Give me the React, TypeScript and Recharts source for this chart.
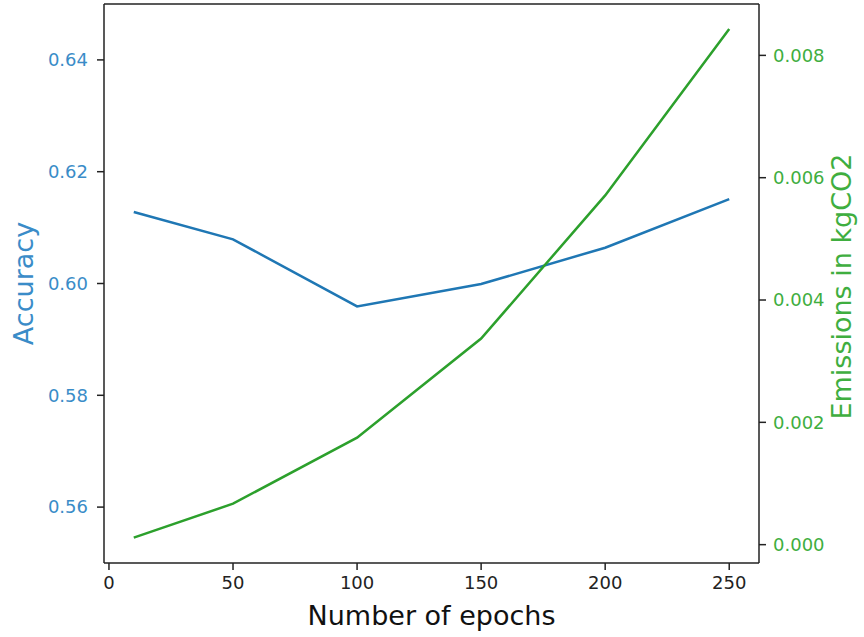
import React from 'react';
import { LineChart, Line, XAxis, YAxis, ReferenceLine } from 'recharts';

const epochs = [10, 50, 100, 150, 200, 250];
const accuracy = [0.6128, 0.6079, 0.5959, 0.5999, 0.6064, 0.6151];
const emissions = [0.000114, 0.00067, 0.00175, 0.00337, 0.00571, 0.00843];

const xTicks = [0, 50, 100, 150, 200, 250];
const accTicks = [0.56, 0.58, 0.6, 0.62, 0.64];
const emTicks = [0, 0.002, 0.004, 0.006, 0.008];

const data = epochs.map((e, i) => ({ epoch: e, accuracy: accuracy[i], emissions: emissions[i] }));

const BLUE = '#1f77b4';
const GREEN = '#2ca02c';
const BLUE_TEXT = '#3a8cc8';
const GREEN_TEXT = '#3fae3f';
const SPINE = '#222';
const FONT = 'DejaVu Sans, sans-serif';

// rotated y-axis title, centred on the axis box
const sideLabel = (text: string, color: string, offsetX: number, shiftY: number) => (props: any) => {
  const vb = props.viewBox || {};
  const x = vb.x + offsetX;
  const y = vb.y + vb.height / 2 + shiftY;
  return (
    <text x={x} y={y} dy="0.355em" transform={`rotate(-90, ${x}, ${y})`} textAnchor="middle"
      fill={color} fontSize={27} fontFamily={FONT}>
      {text}
    </text>
  );
};

const bottomLabel = (props: any) => {
  const vb = props.viewBox || {};
  return (
    <text x={vb.x + vb.width / 2} y={625} textAnchor="middle" fill="#111" fontSize={27} fontFamily={FONT}>
      Number of epochs
    </text>
  );
};

export default function App() {
  return (
    <div style={{ position: 'absolute', left: 0, top: 0, width: 864, height: 637, background: '#fff' }}>
      <LineChart width={864} height={637} data={data} margin={{ top: 4, right: 0, bottom: 0, left: 0 }}>
        <XAxis
          dataKey="epoch"
          type="number"
          domain={[-2, 262]}
          ticks={xTicks}
          height={74}
          stroke={SPINE}
          strokeWidth={1.5}
          tickSize={7}
          tickMargin={6}
          tick={{ fill: '#222', fontSize: 18, fontFamily: FONT }}
          label={{ content: bottomLabel }}
        />
        <YAxis
          yAxisId="left"
          orientation="left"
          domain={[0.55, 0.65]}
          ticks={accTicks}
          width={104}
          stroke={SPINE}
          strokeWidth={1.5}
          tickSize={7}
          tickMargin={9}
          tickFormatter={(v: number) => v.toFixed(2)}
          tick={{ fill: BLUE_TEXT, fontSize: 18, fontFamily: FONT }}
          label={{ content: sideLabel('Accuracy', BLUE_TEXT, 23, 0) }}
        />
        <YAxis
          yAxisId="right"
          orientation="right"
          domain={[-0.0003, 0.00884]}
          ticks={emTicks}
          width={105}
          stroke={SPINE}
          strokeWidth={1.5}
          tickSize={7}
          tickMargin={7}
          tickFormatter={(v: number) => v.toFixed(3)}
          tick={{ fill: GREEN_TEXT, fontSize: 18, fontFamily: FONT }}
          label={{ content: sideLabel('Emissions in kgCO2', GREEN_TEXT, 82, 3) }}
        />
        <ReferenceLine yAxisId="left" y={0.65} stroke={SPINE} strokeWidth={1.5} />
        <Line yAxisId="left" type="linear" dataKey="accuracy" stroke={BLUE} strokeWidth={2.5} dot={false} isAnimationActive={false} />
        <Line yAxisId="right" type="linear" dataKey="emissions" stroke={GREEN} strokeWidth={2.5} dot={false} isAnimationActive={false} />
      </LineChart>
    </div>
  );
}
